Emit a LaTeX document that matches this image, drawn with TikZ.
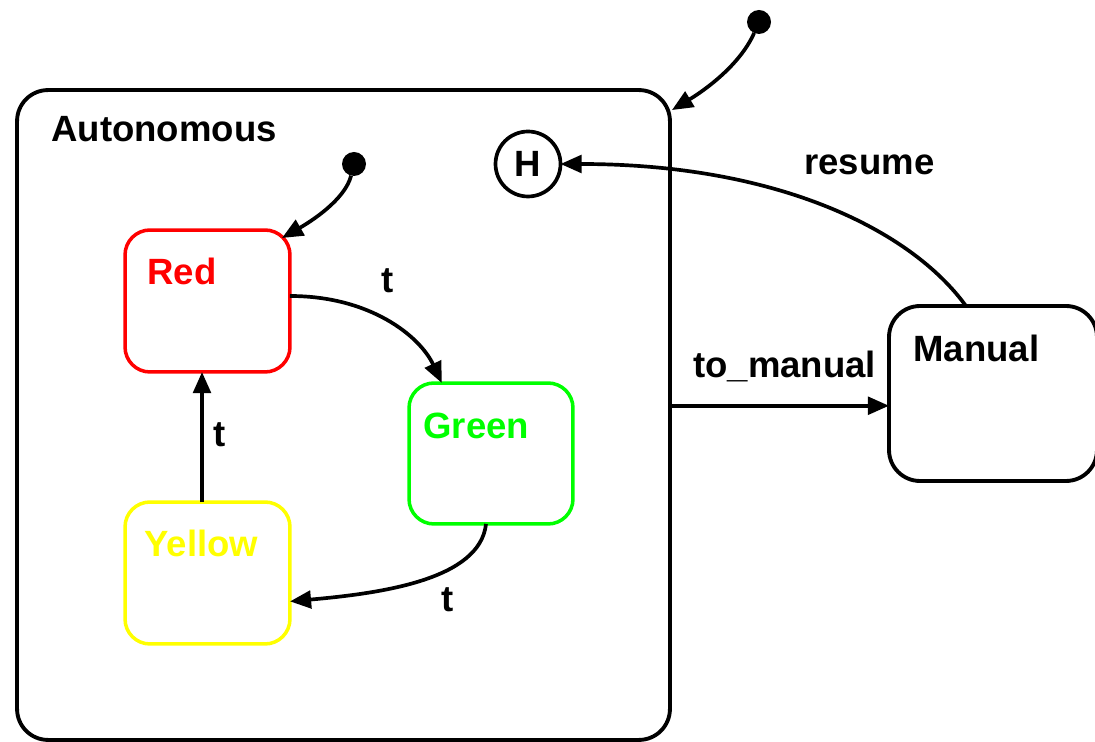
\documentclass[tikz,border=0pt]{standalone}
\usepackage{fontspec}
\setmainfont{Liberation Sans}
\usetikzlibrary{arrows.meta,calc}
\definecolor{stred}{RGB}{255,0,0}
\definecolor{stgreen}{RGB}{0,255,0}
\definecolor{styellow}{RGB}{255,255,0}
\begin{document}
\begin{tikzpicture}[x=0.02cm,y=-0.02cm,
  txt/.style={font=\fontsize{20.8}{24}\selectfont\bfseries, inner sep=0pt, anchor=base west},
  statebox/.style={draw, rectangle, rounded corners=0.5cm, line width=2pt, inner sep=0pt, outer sep=0pt},
  bigbox/.style={draw, rectangle, rounded corners=0.62cm, line width=2.2pt, inner sep=0pt, outer sep=0pt},
  conn/.style={line width=2.1pt, -{Triangle[length=12pt,width=10pt]}},
  initdot/.style={circle, fill=black, minimum size=0.48cm, inner sep=0pt, outer sep=0pt}
]
\useasboundingbox (0,0) rectangle (1095,742);
% containers
\node[bigbox, minimum width=13.06cm, minimum height=13.0cm] (auto) at (343.5,415) {};
\node[bigbox, minimum width=4.16cm, minimum height=3.5cm] (manual) at (993,393.5) {};
% states
\node[statebox, draw=stred, minimum width=3.3cm, minimum height=2.84cm] (red) at (207.5,301) {};
\node[statebox, draw=stgreen, minimum width=3.28cm, minimum height=2.82cm] (green) at (491,453.5) {};
\node[statebox, draw=styellow, minimum width=3.3cm, minimum height=2.84cm] (yellow) at (207.5,573) {};
\node[circle, draw, line width=2.1pt, minimum size=1.3cm, inner sep=0pt, outer sep=0pt, font=\fontsize{20.8}{24}\selectfont\bfseries] (h) at (528,164) {H};
\node[initdot] (init1) at (759,22) {};
\node[initdot] (init2) at (354,164) {};
% texts
\node[txt] (tauto) at (51,142) {Autonomous};
\node[txt, text=stred] (tred) at (147,285) {Red};
\node[txt, text=stgreen] (tgreen) at (423,439) {Green};
\node[txt, text=styellow] (tyellow) at (144,557) {Yellow};
\node[txt] (tmanual) at (913,362) {Manual};
% connectors
\coordinate (autotip) at ([shift={(0.04cm,-0.4cm)}]auto.north east);
\draw[conn] (init1) .. controls +(-19,43) and +(33,-20) .. (autotip);
\coordinate (redtip) at ([shift={(-0.16cm,-0.16cm)}]red.north east);
\draw[conn] (init2) .. controls +(-9,36) and +(28,-16) .. (redtip);
\draw[conn] ([yshift=0.1cm]red.east) .. controls +(80,0) and +(-22,-47) .. ($(green.north west)!0.2!(green.north east)$);
\draw[conn] ([xshift=-0.1cm]green.south) .. controls +(-6,56) and +(90,-8) .. ($(yellow.north east)!0.7!(yellow.south east)$);
\draw[conn] ([xshift=-0.11cm]yellow.north) -- ([xshift=-0.11cm]red.south);
\coordinate (mw) at ($(manual.north west)!0.57!(manual.south west)$);
\draw[conn] (auto.east |- mw) -- (mw);
\draw[conn] ($(manual.north west)!0.37!(manual.north east)$) .. controls +(-55,-76) and +(217,0) .. (h.east);
% labels
\node[txt] (l1) at (381,293) {t};
\node[txt] (l2) at (441,612) {t};
\node[txt] (l3) at (213,447) {t};
\node[txt] (l4) at (693,378) {to\_manual};
\node[txt] (l5) at (804,175) {resume};
\end{tikzpicture}
\end{document}
